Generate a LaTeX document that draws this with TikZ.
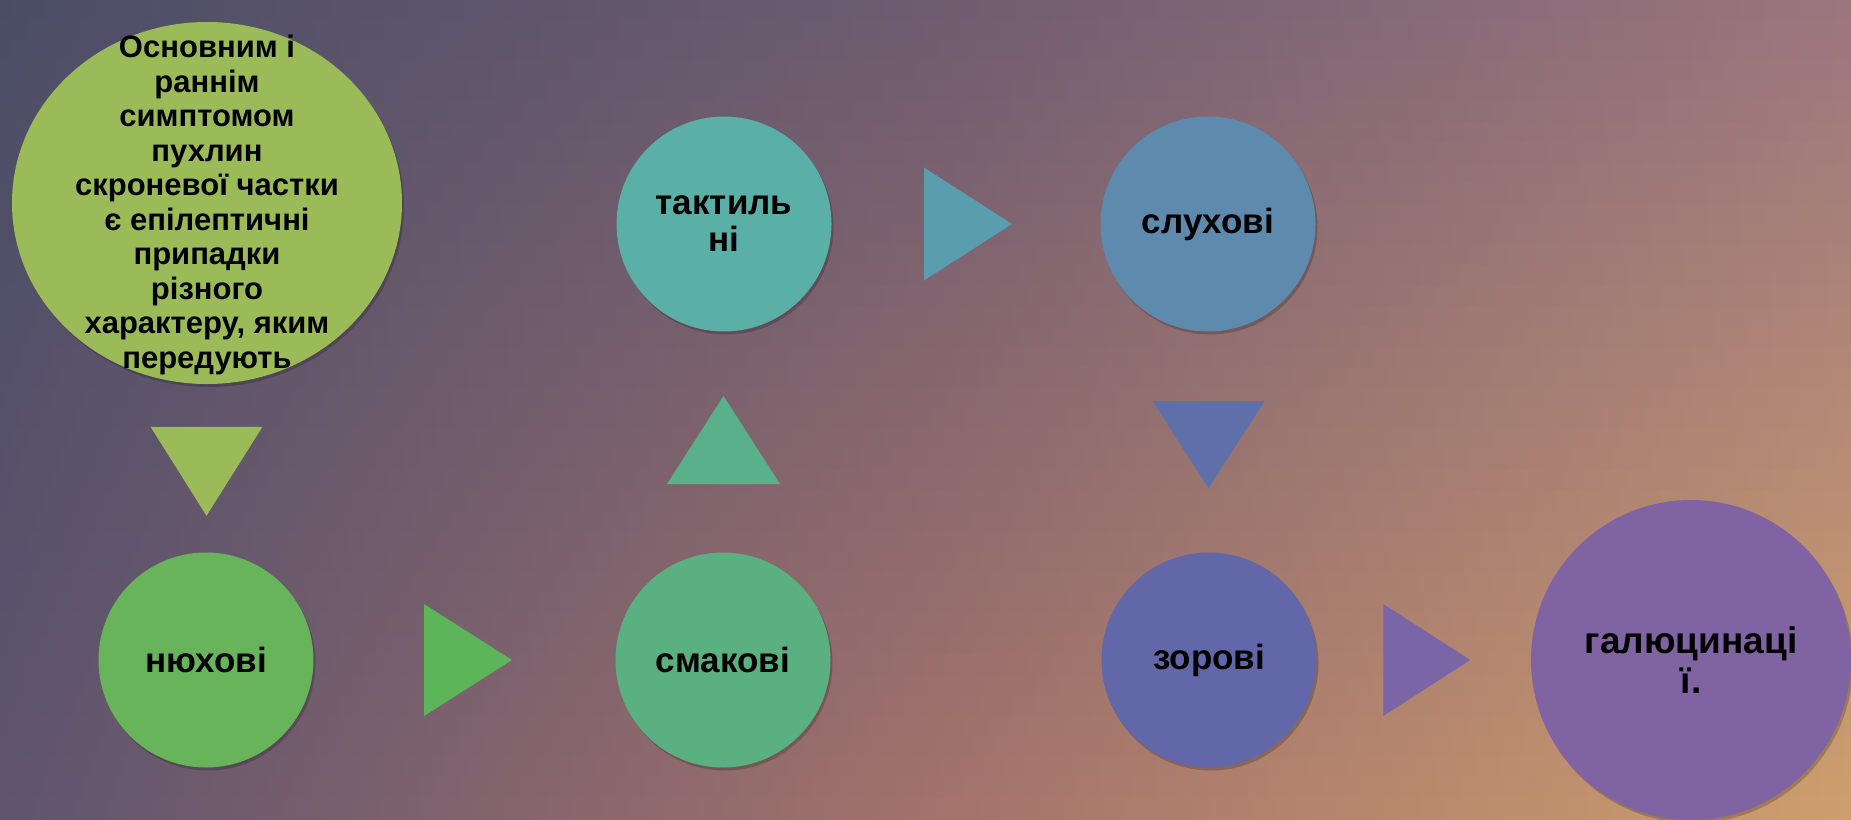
\documentclass[tikz,border=0pt]{standalone}
\usepackage{fontspec}
\setmainfont{Liberation Sans}
\usetikzlibrary{calc,shapes.geometric,shadows}
\definecolor{bgTL}{RGB}{75,77,102}
\definecolor{bgTM}{RGB}{110,92,112}
\definecolor{bgTR}{RGB}{156,118,126}
\definecolor{bgBL}{RGB}{95,84,110}
\definecolor{bgBM}{RGB}{162,114,108}
\definecolor{bgBR}{RGB}{206,158,110}
\definecolor{cA}{RGB}{155,187,89}
\definecolor{cB}{RGB}{103,180,91}
\definecolor{cBt}{RGB}{93,181,90}
\definecolor{cC}{RGB}{90,176,128}
\definecolor{cCt}{RGB}{90,176,139}
\definecolor{cD}{RGB}{90,175,166}
\definecolor{cDt}{RGB}{90,157,174}
\definecolor{cE}{RGB}{94,139,173}
\definecolor{cEt}{RGB}{94,111,170}
\definecolor{cF}{RGB}{97,103,169}
\definecolor{cFt}{RGB}{122,101,167}
\definecolor{cG}{RGB}{127,99,162}
\tikzset{
  bub/.style={circle, inner sep=0pt, minimum size=215pt, align=center,
    font=\bfseries\fontsize{35}{37}\selectfont, text=black,
    drop shadow={shadow xshift=2pt, shadow yshift=-3pt, opacity=0.2, fill=black}},
  bigtext/.style={align=center, inner sep=0pt, text=black,
    font=\bfseries\fontsize{31}{34.5}\selectfont},
}
\begin{document}
\begin{tikzpicture}[x=1pt,y=-1pt]
\useasboundingbox (0,0) rectangle (1851,819);
% background (gradient approximated by strips)
\foreach \i in {0,...,39} {
  \pgfmathsetmacro\p{100-\i*100/39}
  \colorlet{lc}{bgTL!\p!bgBL}
  \colorlet{mc}{bgTM!\p!bgBM}
  \colorlet{rc}{bgTR!\p!bgBR}
  \shade[left color=lc, right color=rc, middle color=mc] (-1,{\i*20.475-0.6}) rectangle (1852,{(\i+1)*20.475+0.6});
}
% nodes
\node[bub, ellipse, minimum width=390pt, minimum height=362pt, fill=cA] (start) at (207,203) {};
\node[bigtext] (starttext) at (207,205) {Основним і\\раннім\\симптомом\\пухлин\\скроневої частки\\є епілептичні\\припадки\\різного\\характеру, яким\\передують};
\node[bub, fill=cB] (n1) at (206,660) {нюхові};
\node[bub, fill=cC] (n2) at (723,660) {смакові};
\node[bub, fill=cD] (n3) at (724,224) {тактиль\\ні};
\node[bub, fill=cE] (n4) at (1208,224) {слухові};
\node[bub, fill=cF] (n5) at (1209,660) {зорові};
\node[bub, fill=cG, minimum size=320pt, font=\bfseries\fontsize{37}{40}\selectfont] (n6) at (1691,660) {галюцинаці\\ї.};
% triangle arrows
\fill[cA] ($(start.south)!0.5!(n1.north)+(0,3)$) ++(-56,-44.5) -- ++(112,0) -- ++(-56,89) -- cycle;
\fill[cBt] ($(n1.east)!0.5!(n2.west)+(3.5,0)$) ++(-44,-56) -- ++(88,56) -- ++(-88,56) -- cycle;
\fill[cCt] ($(n2.north)!0.5!(n3.south)+(0,-2)$) ++(-56.5,44) -- ++(56.5,-88) -- ++(56.5,88) -- cycle;
\fill[cDt] ($(n3.east)!0.5!(n4.west)+(2,0)$) ++(-44,-56.5) -- ++(88,56.5) -- ++(-88,56.5) -- cycle;
\fill[cEt] ($(n4.south)!0.5!(n5.north)+(0,2.5)$) ++(-56,-43.5) -- ++(112,0) -- ++(-56,87) -- cycle;
\fill[cFt] ($(n5.east)!0.5!(n6.west)+(3,0)$) ++(-43.5,-56) -- ++(87,56) -- ++(-87,56) -- cycle;
\end{tikzpicture}
\end{document}
